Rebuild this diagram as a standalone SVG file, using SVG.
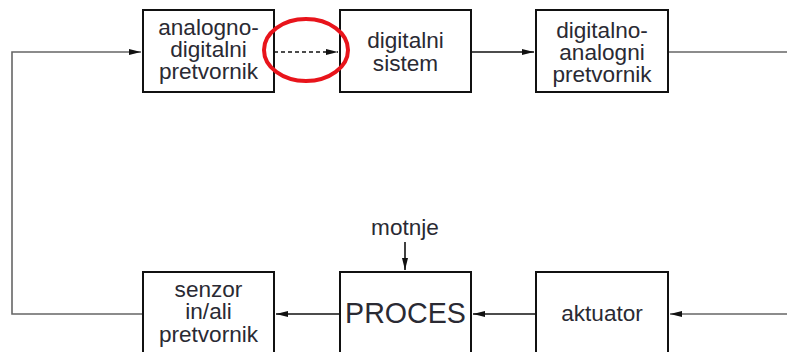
<svg xmlns="http://www.w3.org/2000/svg" width="787" height="352" viewBox="0 0 787 352">
<style>
.box{fill:#fff;stroke:#111;stroke-width:2}
.t{font-family:"Liberation Sans",Arial,sans-serif;font-size:22.6px;fill:#2a2a33;text-anchor:middle}
.big{font-size:28.6px}
.c{fill:none;stroke:#111;stroke-width:1.6}
.g{fill:none;stroke:#666;stroke-width:1.6}
</style>
<defs>
<marker id="ah" viewBox="0 0 12 6" refX="12" refY="3" markerWidth="12" markerHeight="6" markerUnits="userSpaceOnUse" orient="auto">
<path d="M0,0 L12,3 L0,6 Z" fill="#111"/>
</marker>
</defs>
<rect width="787" height="352" fill="#fff"/>
<g id="connectors">
<path class="g" d="M143,314 H12 V52 H141" marker-end="url(#ah)"/>
<path class="c" d="M274,52 H338" stroke-dasharray="4,3" marker-end="url(#ah)"/>
<path class="c" d="M471,52 H534" marker-end="url(#ah)"/>
<path class="g" d="M668,52 H787"/>
<path class="g" d="M787,314 H670" marker-end="url(#ah)"/>
<path class="c" d="M536,314 H473" marker-end="url(#ah)"/>
<path class="c" d="M340,314 H276" marker-end="url(#ah)"/>
<path class="c" d="M405,242 V270" marker-end="url(#ah)"/>
</g>
<g id="adc">
<rect class="box" x="143" y="10" width="131" height="82"/>
<text class="t" x="208.5" y="35">analogno-</text>
<text class="t" x="208.5" y="57">digitalni</text>
<text class="t" x="208.5" y="79">pretvornik</text>
</g>
<g id="ds">
<rect class="box" x="340" y="10" width="131" height="82"/>
<text class="t" x="405.5" y="48">digitalni</text>
<text class="t" x="405.5" y="71">sistem</text>
</g>
<g id="dac">
<rect class="box" x="536" y="10" width="132" height="82"/>
<text class="t" x="602" y="38">digitalno-</text>
<text class="t" x="602" y="60">analogni</text>
<text class="t" x="602" y="82">pretvornik</text>
</g>
<g id="senzor">
<rect class="box" x="143" y="272" width="131" height="90"/>
<text class="t" x="208.5" y="297">senzor</text>
<text class="t" x="208.5" y="319">in/ali</text>
<text class="t" x="208.5" y="342">pretvornik</text>
</g>
<g id="proces">
<rect class="box" x="340" y="272" width="131" height="90"/>
<text class="t big" x="405.5" y="323">PROCES</text>
</g>
<g id="aktuator">
<rect class="box" x="536" y="272" width="132" height="90"/>
<text class="t" x="602" y="321">aktuator</text>
</g>
<g id="motnje">
<text class="t" x="405" y="235">motnje</text>
</g>
<ellipse cx="306" cy="50" rx="42" ry="31" fill="none" stroke="#e8141b" stroke-width="4"/>
</svg>
